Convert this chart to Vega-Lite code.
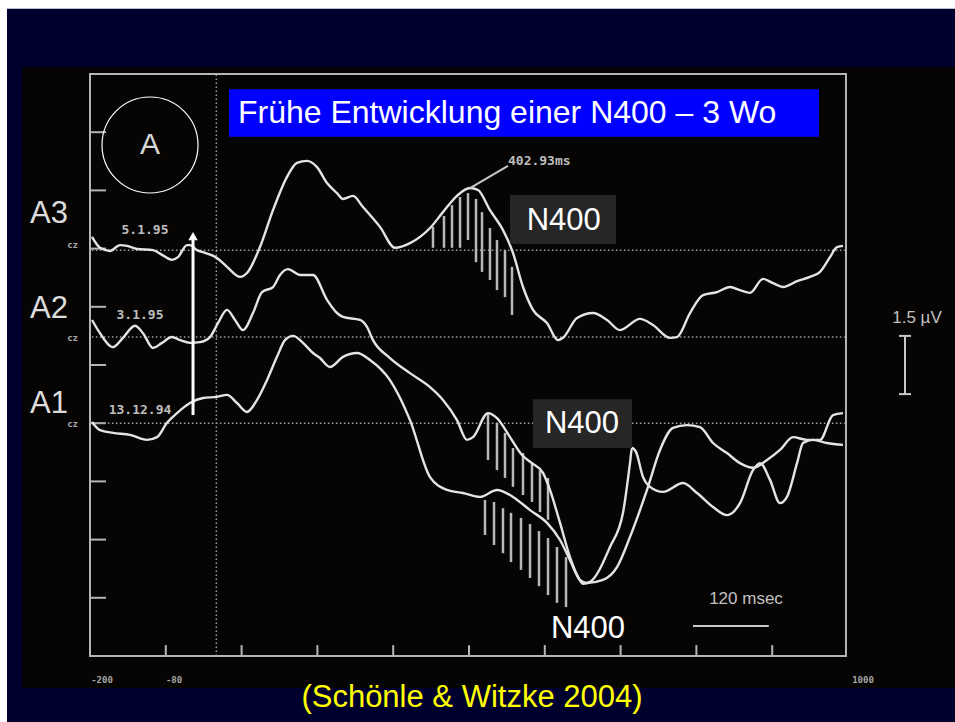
{
  "$schema": "https://vega.github.io/schema/vega-lite/v6.json",
  "width": 758,
  "height": 582,
  "autosize": {"type": "none"},
  "padding": {"left": 90, "top": 74, "right": 107, "bottom": 66},
  "background": "#ffffff",
  "config": {"view": {"stroke": null}},
  "datasets": {
    "navy": [{"x": -331.4, "x2": 1250, "y": -3, "y2": 16.68}],
    "photo": [{"x": -307.7, "x2": 1250, "y": -0.825, "y2": 15.18}],
    "titlebox": [{"x": 20.1, "x2": 954.1, "y": 13.38, "y2": 14.61}],
    "nboxes": [{"x": 464.9, "x2": 632.7, "y": 10.62, "y2": 11.88}, {"x": 501.3, "x2": 658.0, "y": 5.36, "y2": 6.62}],
    "frame": [{"x": -200, "x2": 996.8, "y": 0, "y2": 15}],
    "ticks": [
      {"x": -200, "x2": -174.7, "y": 1.5, "y2": 1.5},
      {"x": -200, "x2": -174.7, "y": 3, "y2": 3},
      {"x": -200, "x2": -174.7, "y": 4.5, "y2": 4.5},
      {"x": -200, "x2": -174.7, "y": 6, "y2": 6},
      {"x": -200, "x2": -174.7, "y": 7.5, "y2": 7.5},
      {"x": -200, "x2": -174.7, "y": 9, "y2": 9},
      {"x": -200, "x2": -174.7, "y": 10.5, "y2": 10.5},
      {"x": -200, "x2": -174.7, "y": 12, "y2": 12},
      {"x": -200, "x2": -174.7, "y": 13.5, "y2": 13.5},
      {"x": -80, "x2": -80, "y": 0, "y2": 0.28},
      {"x": 40, "x2": 40, "y": 0, "y2": 0.28},
      {"x": 160, "x2": 160, "y": 0, "y2": 0.28},
      {"x": 280, "x2": 280, "y": 0, "y2": 0.28},
      {"x": 400, "x2": 400, "y": 0, "y2": 0.28},
      {"x": 520, "x2": 520, "y": 0, "y2": 0.28},
      {"x": 640, "x2": 640, "y": 0, "y2": 0.28},
      {"x": 760, "x2": 760, "y": 0, "y2": 0.28},
      {"x": 880, "x2": 880, "y": 0, "y2": 0.28}
    ],
    "dotted": [
      {"x": -197, "x2": 995, "y": 10.46, "y2": 10.46},
      {"x": -197, "x2": 995, "y": 8.22, "y2": 8.22},
      {"x": -197, "x2": 995, "y": 6.0, "y2": 6.0},
      {"x": 0, "x2": 0, "y": 0, "y2": 15}
    ],
    "hatch": [
      {"x": 343.0, "x2": 343.0, "y": 11.06, "y2": 10.52},
      {"x": 360.4, "x2": 360.4, "y": 11.34, "y2": 10.52},
      {"x": 373.1, "x2": 373.1, "y": 11.62, "y2": 10.52},
      {"x": 385.8, "x2": 385.8, "y": 11.83, "y2": 10.52},
      {"x": 398.4, "x2": 398.4, "y": 11.93, "y2": 10.72},
      {"x": 411.1, "x2": 411.1, "y": 11.78, "y2": 10.15},
      {"x": 420.6, "x2": 420.6, "y": 11.44, "y2": 9.90},
      {"x": 433.2, "x2": 433.2, "y": 11.03, "y2": 9.69},
      {"x": 444.3, "x2": 444.3, "y": 10.72, "y2": 9.43},
      {"x": 457.0, "x2": 457.0, "y": 10.46, "y2": 9.25},
      {"x": 468.1, "x2": 468.1, "y": 10.03, "y2": 8.79},
      {"x": 430.1, "x2": 430.1, "y": 6.26, "y2": 5.05},
      {"x": 444.3, "x2": 444.3, "y": 6.01, "y2": 4.79},
      {"x": 457.0, "x2": 457.0, "y": 5.75, "y2": 4.59},
      {"x": 469.6, "x2": 469.6, "y": 5.36, "y2": 4.36},
      {"x": 485.5, "x2": 485.5, "y": 5.23, "y2": 4.15},
      {"x": 499.7, "x2": 499.7, "y": 4.97, "y2": 3.97},
      {"x": 512.4, "x2": 512.4, "y": 4.79, "y2": 3.71},
      {"x": 525.1, "x2": 525.1, "y": 4.59, "y2": 3.51},
      {"x": 425.3, "x2": 425.3, "y": 4.02, "y2": 3.12},
      {"x": 439.6, "x2": 439.6, "y": 3.97, "y2": 2.86},
      {"x": 453.8, "x2": 453.8, "y": 3.81, "y2": 2.65},
      {"x": 466.5, "x2": 466.5, "y": 3.69, "y2": 2.42},
      {"x": 482.3, "x2": 482.3, "y": 3.56, "y2": 2.22},
      {"x": 496.6, "x2": 496.6, "y": 3.40, "y2": 2.01},
      {"x": 510.8, "x2": 510.8, "y": 3.22, "y2": 1.80},
      {"x": 525.1, "x2": 525.1, "y": 3.04, "y2": 1.57},
      {"x": 539.3, "x2": 539.3, "y": 2.81, "y2": 1.37},
      {"x": 553.6, "x2": 553.6, "y": 2.55, "y2": 1.26}
    ],
    "bars": [
      {"x": 1090.2, "x2": 1090.2, "y": 8.25, "y2": 6.75},
      {"x": 1080.7, "x2": 1099.7, "y": 8.25, "y2": 8.25},
      {"x": 1080.7, "x2": 1099.7, "y": 6.75, "y2": 6.75},
      {"x": 754.6, "x2": 874.6, "y": 0.77, "y2": 0.77},
      {"x": 401.6, "x2": 461.7, "y": 12.06, "y2": 12.63}
    ],
    "arrow": [{"x": -36.9, "x2": -36.9, "y": 6.21, "y2": 10.8}],
    "arrowhead": [{"x": -36.9, "y": 10.82}],
    "circle": [{"x": -105.0, "y": 13.17}],
    "traces": [
      {"s": "A3", "x": -196.8, "y": 10.80}, {"s": "A3", "x": -184.2, "y": 10.52}, {"s": "A3", "x": -168.3, "y": 10.44},
      {"s": "A3", "x": -152.5, "y": 10.59}, {"s": "A3", "x": -141.4, "y": 10.57}, {"s": "A3", "x": -125.6, "y": 10.49},
      {"s": "A3", "x": -100.3, "y": 10.46}, {"s": "A3", "x": -86.0, "y": 10.34}, {"s": "A3", "x": -70.2, "y": 10.21},
      {"s": "A3", "x": -60.7, "y": 10.28}, {"s": "A3", "x": -46.4, "y": 10.59}, {"s": "A3", "x": -41.7, "y": 10.59},
      {"s": "A3", "x": -30.6, "y": 10.46}, {"s": "A3", "x": -17.9, "y": 10.39}, {"s": "A3", "x": 1.1, "y": 10.26},
      {"s": "A3", "x": 16.9, "y": 10.03}, {"s": "A3", "x": 37.5, "y": 9.77}, {"s": "A3", "x": 48.5, "y": 9.87},
      {"s": "A3", "x": 69.1, "y": 10.54}, {"s": "A3", "x": 89.7, "y": 11.49}, {"s": "A3", "x": 111.9, "y": 12.35},
      {"s": "A3", "x": 127.7, "y": 12.71}, {"s": "A3", "x": 143.5, "y": 12.76}, {"s": "A3", "x": 159.4, "y": 12.60},
      {"s": "A3", "x": 175.2, "y": 12.19}, {"s": "A3", "x": 191.0, "y": 11.93}, {"s": "A3", "x": 200.5, "y": 11.78},
      {"s": "A3", "x": 216.4, "y": 11.86}, {"s": "A3", "x": 232.2, "y": 11.57}, {"s": "A3", "x": 259.1, "y": 11.06},
      {"s": "A3", "x": 282.8, "y": 10.52}, {"s": "A3", "x": 306.6, "y": 10.64}, {"s": "A3", "x": 338.3, "y": 11.03},
      {"s": "A3", "x": 358.8, "y": 11.44}, {"s": "A3", "x": 381.0, "y": 11.86}, {"s": "A3", "x": 401.6, "y": 12.06},
      {"s": "A3", "x": 414.2, "y": 12.01}, {"s": "A3", "x": 433.2, "y": 11.49}, {"s": "A3", "x": 453.8, "y": 10.98},
      {"s": "A3", "x": 469.6, "y": 10.39}, {"s": "A3", "x": 485.5, "y": 9.51}, {"s": "A3", "x": 501.3, "y": 8.92},
      {"s": "A3", "x": 523.5, "y": 8.58}, {"s": "A3", "x": 540.9, "y": 8.14}, {"s": "A3", "x": 548.8, "y": 8.20},
      {"s": "A3", "x": 571.0, "y": 8.71}, {"s": "A3", "x": 596.3, "y": 8.84}, {"s": "A3", "x": 618.5, "y": 8.66},
      {"s": "A3", "x": 639.0, "y": 8.40}, {"s": "A3", "x": 670.7, "y": 8.69}, {"s": "A3", "x": 691.3, "y": 8.53},
      {"s": "A3", "x": 718.2, "y": 8.20}, {"s": "A3", "x": 729.3, "y": 8.22}, {"s": "A3", "x": 749.9, "y": 8.84},
      {"s": "A3", "x": 770.4, "y": 9.30}, {"s": "A3", "x": 792.6, "y": 9.38}, {"s": "A3", "x": 813.2, "y": 9.51},
      {"s": "A3", "x": 829.0, "y": 9.43}, {"s": "A3", "x": 844.9, "y": 9.36}, {"s": "A3", "x": 865.4, "y": 9.72},
      {"s": "A3", "x": 881.3, "y": 9.61}, {"s": "A3", "x": 897.1, "y": 9.51}, {"s": "A3", "x": 919.3, "y": 9.66},
      {"s": "A3", "x": 939.8, "y": 9.77}, {"s": "A3", "x": 955.7, "y": 9.90}, {"s": "A3", "x": 971.5, "y": 10.28},
      {"s": "A3", "x": 982.6, "y": 10.54}, {"s": "A3", "x": 992.1, "y": 10.57},

      {"s": "A2", "x": -196.8, "y": 8.66}, {"s": "A2", "x": -184.2, "y": 8.32}, {"s": "A2", "x": -163.6, "y": 7.96},
      {"s": "A2", "x": -147.8, "y": 8.20}, {"s": "A2", "x": -128.8, "y": 8.51}, {"s": "A2", "x": -116.1, "y": 8.32},
      {"s": "A2", "x": -100.3, "y": 7.94}, {"s": "A2", "x": -86.0, "y": 8.07}, {"s": "A2", "x": -70.2, "y": 8.22},
      {"s": "A2", "x": -57.5, "y": 8.14}, {"s": "A2", "x": -41.7, "y": 8.07}, {"s": "A2", "x": -25.9, "y": 8.09},
      {"s": "A2", "x": -10.0, "y": 8.22}, {"s": "A2", "x": 2.6, "y": 8.58}, {"s": "A2", "x": 16.9, "y": 8.92},
      {"s": "A2", "x": 29.6, "y": 8.66}, {"s": "A2", "x": 42.2, "y": 8.40}, {"s": "A2", "x": 58.0, "y": 8.84},
      {"s": "A2", "x": 72.3, "y": 9.38}, {"s": "A2", "x": 89.7, "y": 9.51}, {"s": "A2", "x": 100.8, "y": 9.82},
      {"s": "A2", "x": 113.5, "y": 9.97}, {"s": "A2", "x": 132.5, "y": 9.82}, {"s": "A2", "x": 153.0, "y": 9.82},
      {"s": "A2", "x": 175.2, "y": 9.18}, {"s": "A2", "x": 191.0, "y": 8.84}, {"s": "A2", "x": 200.5, "y": 8.74},
      {"s": "A2", "x": 227.4, "y": 8.66}, {"s": "A2", "x": 238.5, "y": 8.48}, {"s": "A2", "x": 248.0, "y": 8.14},
      {"s": "A2", "x": 274.9, "y": 7.68}, {"s": "A2", "x": 306.6, "y": 7.29}, {"s": "A2", "x": 338.3, "y": 6.93},
      {"s": "A2", "x": 358.8, "y": 6.60}, {"s": "A2", "x": 381.0, "y": 6.08}, {"s": "A2", "x": 396.8, "y": 5.57},
      {"s": "A2", "x": 406.3, "y": 5.64}, {"s": "A2", "x": 430.1, "y": 6.26}, {"s": "A2", "x": 444.3, "y": 6.13},
      {"s": "A2", "x": 464.9, "y": 5.64}, {"s": "A2", "x": 483.9, "y": 5.18}, {"s": "A2", "x": 499.7, "y": 4.97},
      {"s": "A2", "x": 517.1, "y": 4.72}, {"s": "A2", "x": 528.2, "y": 4.28}, {"s": "A2", "x": 544.1, "y": 3.43},
      {"s": "A2", "x": 559.9, "y": 2.55}, {"s": "A2", "x": 572.6, "y": 2.04}, {"s": "A2", "x": 580.5, "y": 1.86},
      {"s": "A2", "x": 591.6, "y": 1.91}, {"s": "A2", "x": 623.2, "y": 2.81}, {"s": "A2", "x": 643.8, "y": 3.69},
      {"s": "A2", "x": 654.9, "y": 4.97}, {"s": "A2", "x": 658.0, "y": 5.36}, {"s": "A2", "x": 664.4, "y": 5.26},
      {"s": "A2", "x": 675.5, "y": 4.61}, {"s": "A2", "x": 686.5, "y": 4.36}, {"s": "A2", "x": 707.1, "y": 4.23},
      {"s": "A2", "x": 738.8, "y": 4.46}, {"s": "A2", "x": 761.0, "y": 4.20}, {"s": "A2", "x": 786.3, "y": 3.84},
      {"s": "A2", "x": 808.4, "y": 3.63}, {"s": "A2", "x": 829.0, "y": 3.94}, {"s": "A2", "x": 849.6, "y": 4.79},
      {"s": "A2", "x": 860.7, "y": 4.97}, {"s": "A2", "x": 876.5, "y": 4.54}, {"s": "A2", "x": 892.3, "y": 3.94},
      {"s": "A2", "x": 903.4, "y": 4.10}, {"s": "A2", "x": 919.3, "y": 4.97}, {"s": "A2", "x": 928.8, "y": 5.49},
      {"s": "A2", "x": 944.6, "y": 5.57}, {"s": "A2", "x": 966.8, "y": 5.49}, {"s": "A2", "x": 992.1, "y": 5.44},

      {"s": "A1", "x": -196.8, "y": 6.03}, {"s": "A1", "x": -184.2, "y": 5.82}, {"s": "A1", "x": -163.6, "y": 5.75},
      {"s": "A1", "x": -136.7, "y": 5.70}, {"s": "A1", "x": -109.8, "y": 5.57}, {"s": "A1", "x": -93.9, "y": 5.64},
      {"s": "A1", "x": -78.1, "y": 6.01}, {"s": "A1", "x": -62.3, "y": 6.26}, {"s": "A1", "x": -41.7, "y": 6.52},
      {"s": "A1", "x": -21.1, "y": 6.65}, {"s": "A1", "x": 1.1, "y": 6.68}, {"s": "A1", "x": 16.9, "y": 6.73},
      {"s": "A1", "x": 32.7, "y": 6.52}, {"s": "A1", "x": 48.5, "y": 6.29}, {"s": "A1", "x": 64.4, "y": 6.60},
      {"s": "A1", "x": 80.2, "y": 7.11}, {"s": "A1", "x": 96.0, "y": 7.71}, {"s": "A1", "x": 108.7, "y": 8.14},
      {"s": "A1", "x": 121.4, "y": 8.25}, {"s": "A1", "x": 137.2, "y": 8.07}, {"s": "A1", "x": 153.0, "y": 7.81},
      {"s": "A1", "x": 164.1, "y": 7.68}, {"s": "A1", "x": 179.9, "y": 7.45}, {"s": "A1", "x": 200.5, "y": 7.71},
      {"s": "A1", "x": 222.7, "y": 7.81}, {"s": "A1", "x": 243.3, "y": 7.63}, {"s": "A1", "x": 274.9, "y": 7.11},
      {"s": "A1", "x": 306.6, "y": 6.08}, {"s": "A1", "x": 338.3, "y": 4.61}, {"s": "A1", "x": 365.2, "y": 4.28},
      {"s": "A1", "x": 390.5, "y": 4.20}, {"s": "A1", "x": 417.4, "y": 4.10}, {"s": "A1", "x": 444.3, "y": 4.28},
      {"s": "A1", "x": 469.6, "y": 4.10}, {"s": "A1", "x": 496.6, "y": 3.76}, {"s": "A1", "x": 523.5, "y": 3.43},
      {"s": "A1", "x": 544.1, "y": 2.99}, {"s": "A1", "x": 559.9, "y": 2.47}, {"s": "A1", "x": 575.7, "y": 1.96},
      {"s": "A1", "x": 586.8, "y": 1.88}, {"s": "A1", "x": 612.1, "y": 1.96}, {"s": "A1", "x": 634.3, "y": 2.29},
      {"s": "A1", "x": 654.9, "y": 3.07}, {"s": "A1", "x": 681.8, "y": 4.28}, {"s": "A1", "x": 702.4, "y": 5.31},
      {"s": "A1", "x": 722.9, "y": 5.88}, {"s": "A1", "x": 745.1, "y": 5.95}, {"s": "A1", "x": 765.7, "y": 5.90},
      {"s": "A1", "x": 786.3, "y": 5.49}, {"s": "A1", "x": 808.4, "y": 5.23}, {"s": "A1", "x": 829.0, "y": 4.97},
      {"s": "A1", "x": 849.6, "y": 4.85}, {"s": "A1", "x": 871.8, "y": 5.05}, {"s": "A1", "x": 892.3, "y": 5.31},
      {"s": "A1", "x": 912.9, "y": 5.64}, {"s": "A1", "x": 935.1, "y": 5.57}, {"s": "A1", "x": 955.7, "y": 5.57},
      {"s": "A1", "x": 976.2, "y": 6.21}, {"s": "A1", "x": 992.1, "y": 6.26}
    ],
    "bigLabels": [
      {"x": -295.0, "y": 11.39, "t": "A3"},
      {"x": -295.0, "y": 8.94, "t": "A2"},
      {"x": -295.0, "y": 6.49, "t": "A1"}
    ],
    "cz": [
      {"x": -219.0, "y": 10.59, "t": "cz"},
      {"x": -219.0, "y": 8.20, "t": "cz"},
      {"x": -219.0, "y": 5.98, "t": "cz"}
    ],
    "dates": [
      {"x": -112.9, "y": 10.98, "t": "5.1.95"},
      {"x": -120.8, "y": 8.79, "t": "3.1.95"},
      {"x": -120.8, "y": 6.34, "t": "13.12.94"}
    ],
    "n400": [
      {"x": 550.0, "y": 11.21, "t": "N400"},
      {"x": 578.9, "y": 5.98, "t": "N400"},
      {"x": 588.4, "y": 0.70, "t": "N400"}
    ],
    "title": [{"x": 34.3, "y": 13.99, "t": "Frühe Entwicklung einer N400 – 3 Wo"}],
    "letterA": [{"x": -105.0, "y": 13.17, "t": "A"}],
    "ms": [{"x": 461.7, "y": 12.76, "t": "402.93ms"}],
    "grayText": [
      {"x": 1109.2, "y": 8.71, "t": "1.5 µV"},
      {"x": 838.5, "y": 1.47, "t": "120 msec"}
    ],
    "axisLabels": [
      {"x": -181.0, "y": -0.62, "t": "-200"},
      {"x": -67.0, "y": -0.62, "t": "-80"},
      {"x": 1023.7, "y": -0.62, "t": "1000"}
    ],
    "cite": [{"x": 404.7, "y": -1.08, "t": "(Schönle & Witzke 2004)"}]
  },
  "encoding": {
    "x": {"field": "x", "type": "quantitative", "scale": {"domain": [-200, 1000]}, "axis": null},
    "y": {"field": "y", "type": "quantitative", "scale": {"domain": [0, 15]}, "axis": null}
  },
  "layer": [
    {"data": {"name": "navy"}, "mark": {"type": "rect", "color": "#00002f"},
     "encoding": {"x2": {"field": "x2"}, "y2": {"field": "y2"}}},
    {"data": {"name": "photo"}, "mark": {"type": "rect", "color": "#070504"},
     "encoding": {"x2": {"field": "x2"}, "y2": {"field": "y2"}}},
    {"data": {"name": "frame"}, "mark": {"type": "rect", "fill": null, "stroke": "#b5b5b5", "strokeWidth": 2},
     "encoding": {"x2": {"field": "x2"}, "y2": {"field": "y2"}}},
    {"data": {"name": "ticks"}, "mark": {"type": "rule", "color": "#b5b5b5", "strokeWidth": 2},
     "encoding": {"x2": {"field": "x2"}, "y2": {"field": "y2"}}},
    {"data": {"name": "dotted"}, "mark": {"type": "rule", "color": "#a0a0a0", "strokeWidth": 1.5, "strokeDash": [1.5, 2.5]},
     "encoding": {"x2": {"field": "x2"}, "y2": {"field": "y2"}}},
    {"data": {"name": "hatch"}, "mark": {"type": "rule", "color": "#b8b8b8", "strokeWidth": 2.5},
     "encoding": {"x2": {"field": "x2"}, "y2": {"field": "y2"}}},
    {"data": {"name": "traces"}, "mark": {"type": "line", "color": "#e4e4e4", "strokeWidth": 2.4, "interpolate": "monotone"},
     "encoding": {"detail": {"field": "s"}}},
    {"data": {"name": "bars"}, "mark": {"type": "rule", "color": "#c8c8c8", "strokeWidth": 2},
     "encoding": {"x2": {"field": "x2"}, "y2": {"field": "y2"}}},
    {"data": {"name": "titlebox"}, "mark": {"type": "rect", "color": "#0000ff"},
     "encoding": {"x2": {"field": "x2"}, "y2": {"field": "y2"}}},
    {"data": {"name": "nboxes"}, "mark": {"type": "rect", "color": "#262626"},
     "encoding": {"x2": {"field": "x2"}, "y2": {"field": "y2"}}},
    {"data": {"name": "arrow"}, "mark": {"type": "rule", "color": "#ffffff", "strokeWidth": 3},
     "encoding": {"x2": {"field": "x2"}, "y2": {"field": "y2"}}},
    {"data": {"name": "arrowhead"}, "mark": {"type": "point", "shape": "triangle-up", "filled": true, "color": "#ffffff", "size": 90, "opacity": 1}},
    {"data": {"name": "circle"}, "mark": {"type": "point", "shape": "circle", "filled": false, "color": "#ffffff", "size": 9216, "strokeWidth": 1.2, "opacity": 1}},
    {"data": {"name": "bigLabels"}, "mark": {"type": "text", "align": "left", "baseline": "middle", "font": "Liberation Sans", "fontSize": 31, "color": "#dcdcdc"},
     "encoding": {"text": {"field": "t"}}},
    {"data": {"name": "cz"}, "mark": {"type": "text", "align": "right", "baseline": "middle", "font": "DejaVu Sans Mono", "fontSize": 9, "fontWeight": "bold", "color": "#a8a8a8"},
     "encoding": {"text": {"field": "t"}}},
    {"data": {"name": "dates"}, "mark": {"type": "text", "align": "center", "baseline": "middle", "font": "DejaVu Sans Mono", "fontSize": 13, "fontWeight": "bold", "color": "#bdbdbd"},
     "encoding": {"text": {"field": "t"}}},
    {"data": {"name": "n400"}, "mark": {"type": "text", "align": "center", "baseline": "middle", "font": "Liberation Sans", "fontSize": 31, "color": "#ffffff"},
     "encoding": {"text": {"field": "t"}}},
    {"data": {"name": "title"}, "mark": {"type": "text", "align": "left", "baseline": "middle", "font": "Liberation Sans", "fontSize": 32, "color": "#ffffff"},
     "encoding": {"text": {"field": "t"}}},
    {"data": {"name": "letterA"}, "mark": {"type": "text", "align": "center", "baseline": "middle", "font": "Liberation Sans", "fontSize": 30, "color": "#d8d8d8"},
     "encoding": {"text": {"field": "t"}}},
    {"data": {"name": "ms"}, "mark": {"type": "text", "align": "left", "baseline": "middle", "font": "DejaVu Sans Mono", "fontSize": 13, "fontWeight": "bold", "color": "#bdbdbd"},
     "encoding": {"text": {"field": "t"}}},
    {"data": {"name": "grayText"}, "mark": {"type": "text", "align": "center", "baseline": "middle", "font": "Liberation Sans", "fontSize": 17, "color": "#c0c0c0"},
     "encoding": {"text": {"field": "t"}}},
    {"data": {"name": "axisLabels"}, "mark": {"type": "text", "align": "center", "baseline": "middle", "font": "DejaVu Sans Mono", "fontSize": 9, "fontWeight": "bold", "color": "#a8a8a8"},
     "encoding": {"text": {"field": "t"}}},
    {"data": {"name": "cite"}, "mark": {"type": "text", "align": "center", "baseline": "middle", "font": "Liberation Sans", "fontSize": 31, "color": "#ffff00"},
     "encoding": {"text": {"field": "t"}}}
  ]
}
